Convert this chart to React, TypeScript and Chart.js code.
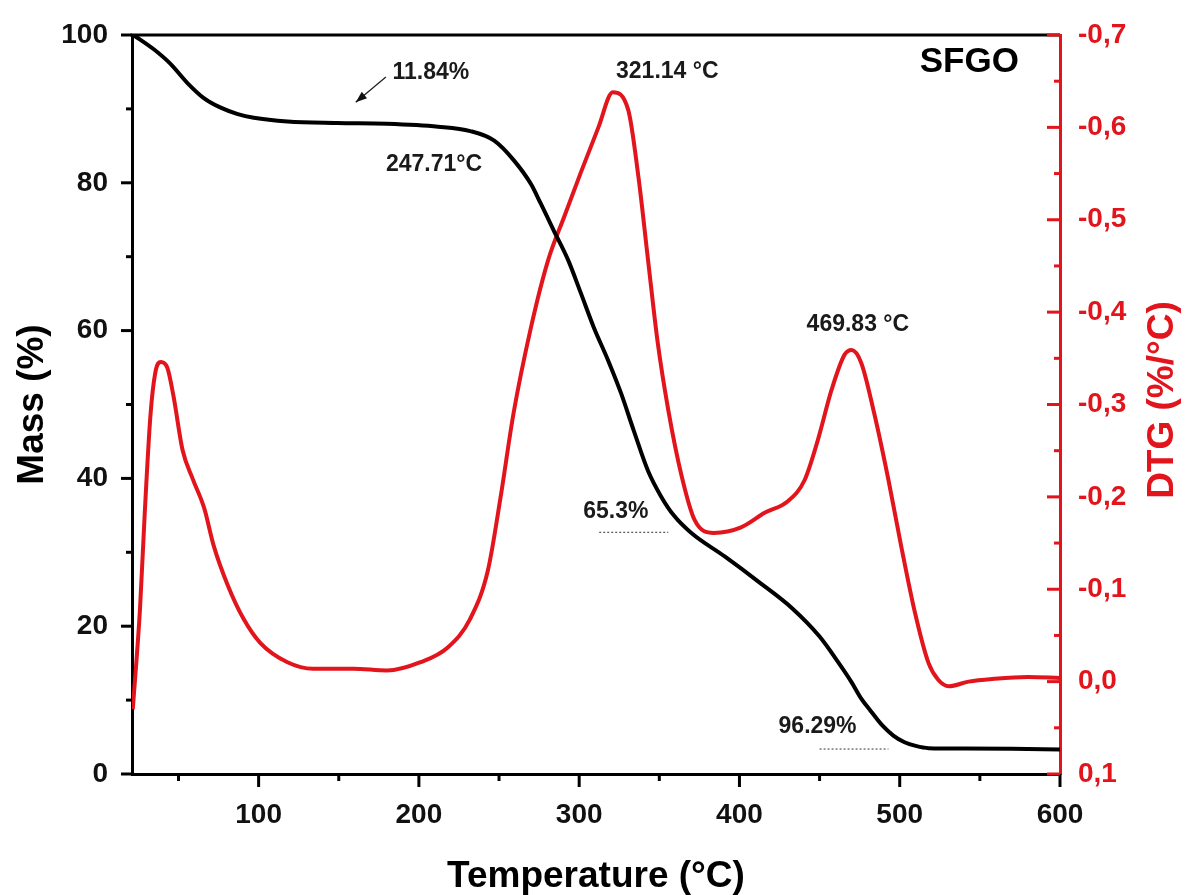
import React, { useEffect, useRef } from 'react';
import { Chart, registerables } from 'chart.js';

Chart.register(...registerables);

// ---- data ----
const massTemps = [21.9, 34.4, 45, 55.6, 65.6, 76, 87, 97, 118, 149, 180, 212, 232, 247, 259, 270, 276, 284, 293, 301, 309, 318, 326, 334, 343, 351, 359, 370, 391, 412, 433, 450, 462, 470, 476, 482, 489, 496, 503, 510, 518, 540, 570, 600];
const massValues = [100.0, 98.1, 96.1, 93.5, 91.5, 90.2, 89.3, 88.8, 88.3, 88.1, 88.0, 87.6, 87.0, 85.7, 83.1, 79.8, 77.2, 73.6, 69.6, 65.1, 60.5, 56.0, 51.6, 46.5, 41.0, 37.6, 35.0, 32.6, 29.4, 26.0, 22.4, 18.6, 15.0, 12.4, 10.2, 8.5, 6.6, 5.2, 4.3, 3.8, 3.5, 3.45, 3.4, 3.3];

const dtgTemps = [21.5, 26, 29, 32.5, 35.6, 39, 43, 47, 52.5, 59, 66, 72, 80.6, 90.6, 101, 118, 134, 159, 180, 201, 218, 232, 243, 251, 259, 270, 280.6, 290.6, 301, 312, 321, 330.6, 337, 343, 349, 355.6, 364, 372, 384, 401, 416, 430, 440.6, 449, 457.5, 465.6, 470, 476, 484, 493, 501, 509.6, 518, 524, 530.6, 543, 559, 580, 600];
const dtgValues = [0.03, -0.079, -0.184, -0.288, -0.335, -0.346, -0.34, -0.308, -0.251, -0.219, -0.188, -0.147, -0.105, -0.068, -0.042, -0.021, -0.014, -0.014, -0.012, -0.021, -0.037, -0.068, -0.12, -0.2, -0.29, -0.384, -0.456, -0.503, -0.551, -0.6, -0.638, -0.619, -0.546, -0.456, -0.367, -0.294, -0.222, -0.175, -0.161, -0.167, -0.183, -0.195, -0.218, -0.262, -0.316, -0.354, -0.359, -0.345, -0.291, -0.218, -0.146, -0.074, -0.02, -0.002, 0.005, 0.0, -0.003, -0.005, -0.004];

const xTicks = [100, 200, 300, 400, 500, 600];
const xMinorTicks = [50, 150, 250, 350, 450, 550];
const massTicks = [0, 20, 40, 60, 80, 100];
const massMinorTicks = [10, 30, 50, 70, 90];
const dtgTicks = [-0.7, -0.6, -0.5, -0.4, -0.3, -0.2, -0.1, 0.0, 0.1];
const dtgMinorTicks = [-0.65, -0.55, -0.45, -0.35, -0.25, -0.15, -0.05, 0.05];

const xTitle = 'Temperature (°C)';
const massTitle = 'Mass (%)';
const dtgTitle = 'DTG (%/°C)';

// annotation texts anchored in data units (temperature, mass %)
const labelTexts = ['11.84%', '321.14 °C', '247.71°C', '65.3%', '96.29%', '469.83 °C'];
const labelTemps = [183.5, 323, 179.4, 302.5, 424.4, 441.9];
const labelMass = [94.9, 95.0, 82.4, 35.5, 6.36, 60.8];
const sampleName = 'SFGO';
const sampleTemp = 512.5;
const sampleMass = 96.3;
const dottedTemps = [[312.5, 355.6], [450, 493]];
const dottedMass = [32.7, 3.38];
const arrowFrom = [179.4, 94.3];
const arrowTo = [160.6, 90.9];

const RED = 'rgb(226,20,28)';
const FONT = 'Arial, "Liberation Sans", Helvetica, sans-serif';

const decorPlugin = {
  id: 'decor',
  afterDraw(chart: any) {
    const ctx = chart.ctx;
    const { left, right, top, bottom } = chart.chartArea;
    const xs = chart.scales.x;
    const ys = chart.scales.y;
    const y2 = chart.scales.y2;
    ctx.save();
    // top frame
    ctx.strokeStyle = '#000';
    ctx.lineWidth = 3;
    ctx.beginPath();
    ctx.moveTo(left - 1.5, top);
    ctx.lineTo(right, top);
    ctx.stroke();

    // ticks
    ctx.lineWidth = 3;
    ctx.strokeStyle = '#000';
    const tick = (x1: number, y1: number, x2: number, y2p: number) => {
      ctx.beginPath();
      ctx.moveTo(x1, y1);
      ctx.lineTo(x2, y2p);
      ctx.stroke();
    };
    xTicks.forEach((v) => { const p = xs.getPixelForValue(v); tick(p, bottom, p, bottom + 13); });
    xMinorTicks.forEach((v) => { const p = xs.getPixelForValue(v); tick(p, bottom, p, bottom + 7); });
    massTicks.forEach((v) => { const p = ys.getPixelForValue(v); tick(left, p, left - 11, p); });
    massMinorTicks.forEach((v) => { const p = ys.getPixelForValue(v); tick(left, p, left - 6, p); });
    ctx.strokeStyle = RED;
    dtgTicks.forEach((v) => { const p = y2.getPixelForValue(v); tick(right, p, right - 13, p); });
    dtgMinorTicks.forEach((v) => { const p = y2.getPixelForValue(v); tick(right, p, right - 6, p); });

    // axis titles
    ctx.fillStyle = '#000';
    ctx.font = `bold 37px ${FONT}`;
    ctx.textAlign = 'center';
    ctx.textBaseline = 'middle';
    ctx.fillText(xTitle, (left + right) / 2, 877);
    ctx.save();
    ctx.translate(33, (top + bottom) / 2);
    ctx.rotate(-Math.PI / 2);
    ctx.fillText(massTitle, 0, 0);
    ctx.restore();
    ctx.save();
    ctx.fillStyle = RED;
    ctx.translate(1163, 400);
    ctx.rotate(-Math.PI / 2);
    ctx.fillText(dtgTitle, 0, 0);
    ctx.restore();

    // annotations
    ctx.fillStyle = '#1a1a1a';
    ctx.font = `bold 23px ${FONT}`;
    ctx.textAlign = 'left';
    labelTexts.forEach((t, i) => {
      ctx.fillText(t, xs.getPixelForValue(labelTemps[i]), ys.getPixelForValue(labelMass[i]));
    });
    ctx.fillStyle = '#000';
    ctx.font = `bold 35px ${FONT}`;
    ctx.fillText(sampleName, xs.getPixelForValue(sampleTemp), ys.getPixelForValue(sampleMass));

    // dotted lines
    ctx.strokeStyle = '#555';
    ctx.lineWidth = 1.2;
    ctx.setLineDash([2, 2]);
    dottedTemps.forEach((pair, i) => {
      const yp = ys.getPixelForValue(dottedMass[i]);
      ctx.beginPath();
      ctx.moveTo(xs.getPixelForValue(pair[0]), yp);
      ctx.lineTo(xs.getPixelForValue(pair[1]), yp);
      ctx.stroke();
    });
    ctx.setLineDash([]);

    // arrow
    const ax1 = xs.getPixelForValue(arrowFrom[0]);
    const ay1 = ys.getPixelForValue(arrowFrom[1]);
    const ax2 = xs.getPixelForValue(arrowTo[0]);
    const ay2 = ys.getPixelForValue(arrowTo[1]);
    ctx.strokeStyle = '#222';
    ctx.lineWidth = 1.3;
    ctx.beginPath();
    ctx.moveTo(ax1, ay1);
    ctx.lineTo(ax2, ay2);
    ctx.stroke();
    const ang = Math.atan2(ay2 - ay1, ax2 - ax1);
    const hl = 12;
    ctx.fillStyle = '#111';
    ctx.beginPath();
    ctx.moveTo(ax2, ay2);
    ctx.lineTo(ax2 - hl * Math.cos(ang - 0.35), ay2 - hl * Math.sin(ang - 0.35));
    ctx.lineTo(ax2 - hl * Math.cos(ang + 0.35), ay2 - hl * Math.sin(ang + 0.35));
    ctx.closePath();
    ctx.fill();
    ctx.restore();
  },
};

export default function App() {
  const ref = useRef<HTMLCanvasElement | null>(null);
  useEffect(() => {
    document.body.style.margin = '0';
    const canvas = ref.current;
    if (!canvas) return;
    const massData = massTemps.map((t, i) => ({ x: t, y: massValues[i] }));
    const dtgData = dtgTemps.map((t, i) => ({ x: t, y: dtgValues[i] }));
    const tickFont = { family: FONT, size: 28, weight: 'bold' as const };
    const chart = new Chart(canvas, {
      type: 'line',
      data: {
        datasets: [
          {
            label: 'Mass',
            data: massData,
            yAxisID: 'y',
            borderColor: '#000',
            borderWidth: 4,
            pointRadius: 0,
            cubicInterpolationMode: 'monotone',
            fill: false,
          },
          {
            label: 'DTG',
            data: dtgData,
            yAxisID: 'y2',
            borderColor: RED,
            borderWidth: 4,
            pointRadius: 0,
            cubicInterpolationMode: 'monotone',
            fill: false,
          },
        ],
      },
      options: {
        responsive: false,
        animation: false,
        devicePixelRatio: 1,
        layout: { padding: { top: 35, left: 0, right: 0, bottom: 0 } },
        plugins: { legend: { display: false }, tooltip: { enabled: false } },
        scales: {
          x: {
            type: 'linear',
            position: 'bottom',
            min: 21,
            max: 600,
            afterBuildTicks: (s: any) => { s.ticks = xTicks.map((v) => ({ value: v })); },
            afterFit: (s: any) => { s.height = 121; s.paddingLeft = 0; s.paddingRight = 0; },
            grid: { display: false, drawTicks: false },
            border: { display: true, color: '#000', width: 3 },
            ticks: { font: tickFont, color: '#111', padding: 24, maxRotation: 0, autoSkip: false },
          },
          y: {
            type: 'linear',
            position: 'left',
            min: 0,
            max: 100,
            afterBuildTicks: (s: any) => { s.ticks = massTicks.map((v) => ({ value: v })); },
            afterFit: (s: any) => { s.width = 132; s.paddingTop = 0; s.paddingBottom = 0; },
            grid: { display: false, drawTicks: false },
            border: { display: true, color: '#000', width: 3 },
            ticks: { font: tickFont, color: '#111', padding: 24 },
          },
          y2: {
            type: 'linear',
            position: 'right',
            min: -0.7,
            max: 0.1,
            reverse: true,
            afterBuildTicks: (s: any) => { s.ticks = dtgTicks.map((v) => ({ value: v })); },
            afterFit: (s: any) => { s.width = 130; s.paddingTop = 0; s.paddingBottom = 0; },
            grid: { display: false, drawTicks: false },
            border: { display: true, color: RED, width: 3 },
            ticks: {
              font: tickFont,
              color: RED,
              padding: 18,
              callback: (v: any) => Number(v).toFixed(1).replace('.', ',').replace('-0,0', '0,0'),
            },
          },
        },
      },
      plugins: [decorPlugin],
    } as any);
    return () => chart.destroy();
  }, []);
  return <canvas ref={ref} width={1190} height={895} style={{ display: 'block' }} />;
}
